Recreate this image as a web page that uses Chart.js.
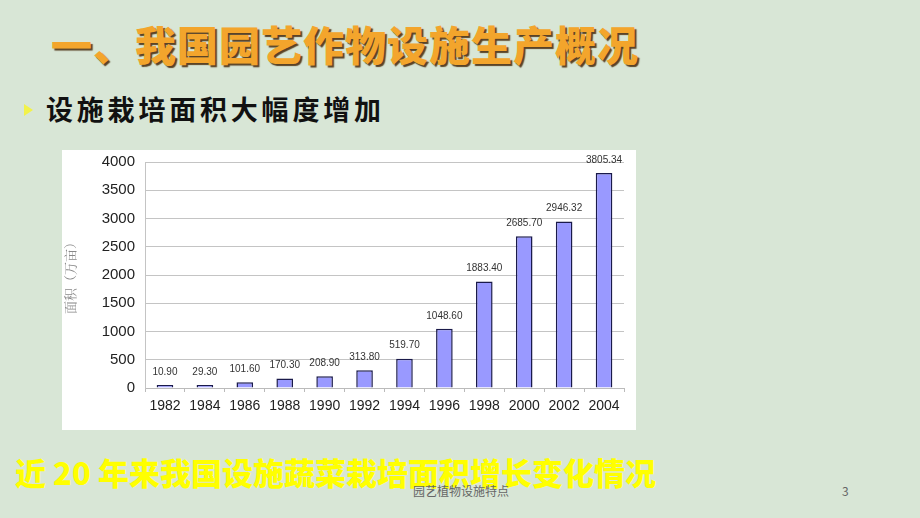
<!DOCTYPE html>
<html>
<head>
<meta charset="utf-8">
<script src="https://cdn.jsdelivr.net/npm/chart.js@4"></script>
<style>
  html, body { margin: 0; padding: 0; }
  body { width: 920px; height: 518px; position: relative; overflow: hidden;
    background: #d8e6d6; font-family: "Noto Sans CJK SC", sans-serif; }
  .title { position: absolute; left: 51px; top: 23px; font-size: 41px; font-weight: 900;
    color: #f3a52c; text-shadow: 2px 2px 1px #5a4326; letter-spacing: 1px; line-height: 1; }
  .sub { position: absolute; left: 46px; top: 95px; font-size: 27px; font-weight: 700;
    color: #111; line-height: 1; letter-spacing: 3.8px; }
  .bullet { position: absolute; left: 24px; top: 104px; width: 0; height: 0;
    border-top: 6px solid transparent; border-bottom: 6px solid transparent;
    border-left: 9px solid #f2f24a; }
  .box { position: absolute; left: 62px; top: 150px; width: 574px; height: 280px; background: #fff; }
  .cap { position: absolute; left: 15px; top: 456px; font-size: 31px; font-weight: 900;
    color: #ffff00; line-height: 1; }
  .foot { position: absolute; left: 413px; top: 485px; font-size: 12px; color: #666; line-height: 1; }
  .num { position: absolute; left: 842px; top: 485px; font-size: 12px; color: #666; line-height: 1; }
</style>
</head>
<body>
<div class="title">一、我国园艺作物设施生产概况</div>
<div class="bullet"></div>
<div class="sub">设施栽培面积大幅度增加</div>
<div class="box"><canvas id="c"></canvas></div>
<div class="cap">近 20 年来我国设施蔬菜栽培面积增长变化情况</div>
<div class="foot">园艺植物设施特点</div>
<div class="num">3</div>
<script>
// area of protected vegetable cultivation, 10k mu
const years = ['1982', '1984', '1986', '1988', '1990', '1992', '1994', '1996', '1998', '2000', '2002', '2004'];
const areas = [10.90, 29.30, 101.60, 170.30, 208.90, 313.80, 519.70, 1048.60, 1883.40, 2685.70, 2946.32, 3805.34];
const yTitle = '面积（万亩）';

// value labels over each bar
const barLabels = {
  id: 'barLabels',
  afterDatasetsDraw(chart) {
    const ctx = chart.ctx;
    const meta = chart.getDatasetMeta(0);
    ctx.save();
    ctx.font = '10px Arial, "Liberation Sans", sans-serif';
    ctx.fillStyle = '#333';
    ctx.textAlign = 'center';
    ctx.textBaseline = 'bottom';
    meta.data.forEach((bar, i) => {
      ctx.fillText(areas[i].toFixed(2), bar.x, bar.y - 8);
    });
    ctx.restore();
  }
};

new Chart(document.getElementById('c').getContext('2d'), {
  type: 'bar',
  data: {
    labels: years,
    datasets: [{ data: areas, backgroundColor: '#9999ff', borderColor: '#1a1a4a', borderWidth: 1.5,
      minBarLength: 3, barPercentage: 0.8, categoryPercentage: 0.52 }]
  },
  options: {
    responsive: true, maintainAspectRatio: false, animation: false,
    layout: { padding: { top: 12, right: 12, left: 0, bottom: 0 } },
    plugins: { legend: { display: false }, tooltip: { enabled: false } },
    scales: {
      x: {
        afterFit: s => { s.height = 42; },
        grid: { display: true, drawOnChartArea: false, offset: true, tickLength: 4, color: '#bbb' },
        border: { color: '#bbb' },
        ticks: { color: '#222', padding: 6, font: { family: 'Arial, "Liberation Sans"', size: 14 } }
      },
      y: {
        min: 0, max: 4000,
        afterFit: s => { s.width = 83; s.paddingTop = 0; s.paddingBottom = 0; },
        grid: { color: '#c4c4c4', drawTicks: false },
        border: { color: '#c4c4c4' },
        ticks: { stepSize: 500, color: '#222', padding: 10, callback: v => String(v),
          font: { family: 'Arial, "Liberation Sans"', size: 15 } },
        title: { display: true, text: yTitle, color: '#888', padding: { top: 0, bottom: 2 },
          font: { family: '"Noto Serif CJK SC", "Noto Sans CJK SC"', size: 13 } }
      }
    }
  },
  plugins: [barLabels]
});
</script>
</body>
</html>
